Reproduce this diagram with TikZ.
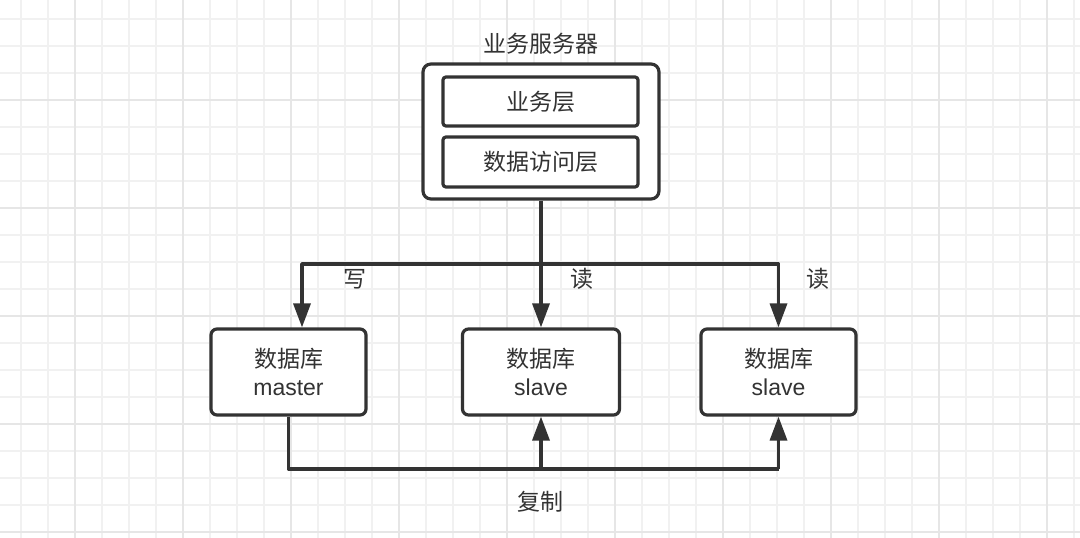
\documentclass[tikz,border=0pt]{standalone}
\usepackage{fontspec}
\setmainfont{Liberation Sans}
\newfontfamily\cjk{Noto Sans CJK SC}
\usetikzlibrary{arrows.meta,calc}
\definecolor{ink}{HTML}{333333}
\definecolor{gridminor}{HTML}{F1F1F1}
\definecolor{gridmajor}{HTML}{E6E6E6}
\begin{document}
\begin{tikzpicture}[x=1pt,y=-1pt,
  txt/.style={text=ink, font=\fontsize{23}{28}\selectfont, inner sep=0pt},
  box/.style={draw=ink, line width=3.2pt, rounded corners=6pt, fill=white, inner sep=0pt,
              text=ink, font=\fontsize{23}{28}\selectfont, align=center},
  conn/.style={draw=ink, line width=3.4pt, line join=round},
  arr/.style={conn, -{Triangle[length=24pt,width=17pt]}}]
\useasboundingbox (0,0) rectangle (1080,538);
\fill[white] (0,0) rectangle (1080,538);
% grid
\foreach \k in {0,...,39} \draw[gridminor, line width=1.3pt] ({21+27*\k},0) -- ++(0,538);
\foreach \k in {0,...,19} \draw[gridminor, line width=1.3pt] (0,{19+27*\k}) -- ++(1080,0);
\foreach \k in {0,...,9} \draw[gridmajor, line width=1.6pt] ({75+108*\k},0) -- ++(0,538);
\foreach \k in {0,...,4} \draw[gridmajor, line width=1.6pt] (0,{100+108*\k}) -- ++(1080,0);

% server
\node[txt] (title) at (540.5,44) {\cjk 业务服务器};
\node[box, rounded corners=8pt, minimum width=236pt, minimum height=135pt] (server) at (541,131.5) {};
\node[box, rounded corners=3pt, minimum width=195pt, minimum height=49pt] (biz) at (540.5,101.5) {\cjk 业务层};
\node[box, rounded corners=3pt, minimum width=195pt, minimum height=50pt] (dao) at (540.5,162) {\cjk 数据访问层};

% databases
\node[box, minimum width=155pt, minimum height=86pt] (master) at (288.5,372) {{\cjk 数据库}\\master};
\node[box, minimum width=157pt, minimum height=86pt] (s1) at (541,372) {{\cjk 数据库}\\slave};
\node[box, minimum width=155pt, minimum height=86pt] (s2) at (778.5,372) {{\cjk 数据库}\\slave};

% read/write connectors
\coordinate (j) at (541,264);
\draw[arr] (server.south) -- (s1.north);
\draw[arr] (j) -| ([xshift=13.5pt]master.north);
\draw[arr] (j) -| (s2.north);
\node[txt] (w) at (355,279) {\cjk 写};
\node[txt] (r1) at (581.5,279) {\cjk 读};
\node[txt] (r2) at (818,279) {\cjk 读};

% replication
\coordinate (b) at (541,469);
\draw[conn] (master.south) |- (s2.south |- b);
\draw[arr] (s2.south |- b) -- (s2.south);
\draw[arr] (b) -- (s1.south);
\node[txt] (copy) at (540.5,502) {\cjk 复制};
\end{tikzpicture}
\end{document}
